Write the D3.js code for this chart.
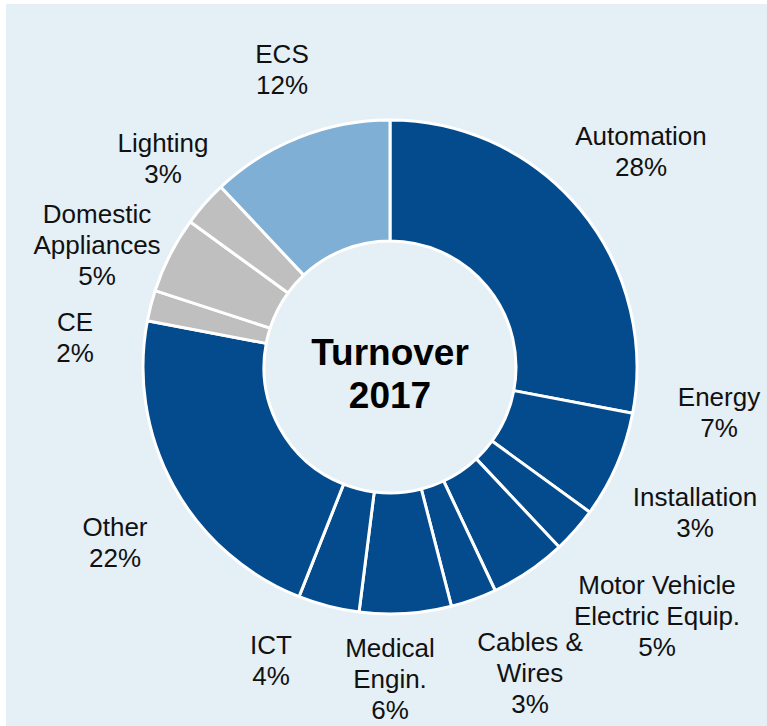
<!DOCTYPE html>
<html>
<head>
<meta charset="utf-8">
<script src="https://cdn.jsdelivr.net/npm/d3@7/dist/d3.min.js"></script>
<style>
body{margin:0;background:#ffffff}
svg{display:block}
text{font-family:"Liberation Sans",Arial,sans-serif}
</style>
</head>
<body>
<svg></svg>
<script>

// sectors clockwise from 12 o'clock
var sectors= ["Automation","Energy","Installation","Motor Vehicle Electric Equip.","Cables & Wires",
    "Medical Engin.","ICT","Other","CE","Domestic Appliances","Lighting","ECS"]
var shares= [28,7,3,5,3,6,4,22,2,5,3,12]
var groups= ["core","core","core","core","core","core","core","core","consumer","consumer","consumer","ecs"]

// how each label breaks into lines (the % goes under it)
var labelLines= [["Automation"],["Energy"],["Installation"],["Motor Vehicle","Electric Equip."],["Cables &","Wires"],
    ["Medical","Engin."],["ICT"],["Other"],["CE"],["Domestic","Appliances"],["Lighting"],["ECS"]]

var title= ["Turnover","2017"]


var screen= {width:767,height:726}
var center= {x:390,y:367}
var radius= {outer:247,inner:126}

// where each label block sits (middle of the block)
var labelSpots= [[641,151],[719,412],[695,512],[657,616],[530,673],[390,679],
    [271,660],[115,542],[75,337],[97,245],[163,158],[282,69]]

var colour= d3.scaleOrdinal()
    .domain(["core","consumer","ecs"])
    .range(["#034b8d","#bfbfbf","#7fafd4"])

var svg= d3.select("svg")
    .attr("width",screen.width)
    .attr("height",screen.height)

svg.append("rect")
    .attr("x",6)
    .attr("y",4)
    .attr("width",screen.width-6)
    .attr("height",screen.height-4)
    .attr("fill","#e4eff6")

var pie= d3.pie()
    .sort(null)
    .value(function(d){return d})

var arc= d3.arc()
    .innerRadius(radius.inner)
    .outerRadius(radius.outer)

var donut= svg.append("g")
    .attr("transform","translate("+center.x+","+center.y+")")

donut.selectAll("path")
    .data(pie(shares))
    .enter()
    .append("path")
    .attr("d",arc)
    .attr("fill",function(d,i){return colour(groups[i])})
    .attr("stroke","#ffffff")
    .attr("stroke-width",3)
    .attr("stroke-linejoin","round")


// labels
var fontSize= 26
var lineGap= 31

var labels= svg.selectAll("text.lab")
    .data(sectors)
    .enter()
    .append("text")
    .attr("class","lab")
    .attr("text-anchor","middle")
    .attr("font-size",fontSize)
    .attr("fill","#111111")
    .each(function(d,i){
        var lines= labelLines[i].concat([shares[i]+"%"])
        var spot= labelSpots[i]
        // first baseline so the block is centred on the spot
        var first= spot[1]-(lines.length-1)*lineGap/2+fontSize*0.36
        var t= d3.select(this)
        lines.forEach(function(line,k){
            t.append("tspan")
                .attr("x",spot[0])
                .attr("y",first+k*lineGap)
                .text(line)
        })
    })


svg.append("text")
    .attr("text-anchor","middle")
    .attr("font-size",37)
    .attr("font-weight","bold")
    .attr("fill","#000000")
    .selectAll("tspan")
    .data(title)
    .enter()
    .append("tspan")
    .attr("x",center.x)
    .attr("y",function(d,i){return 365+i*43})
    .text(function(d){return d})

</script>
</body>
</html>
